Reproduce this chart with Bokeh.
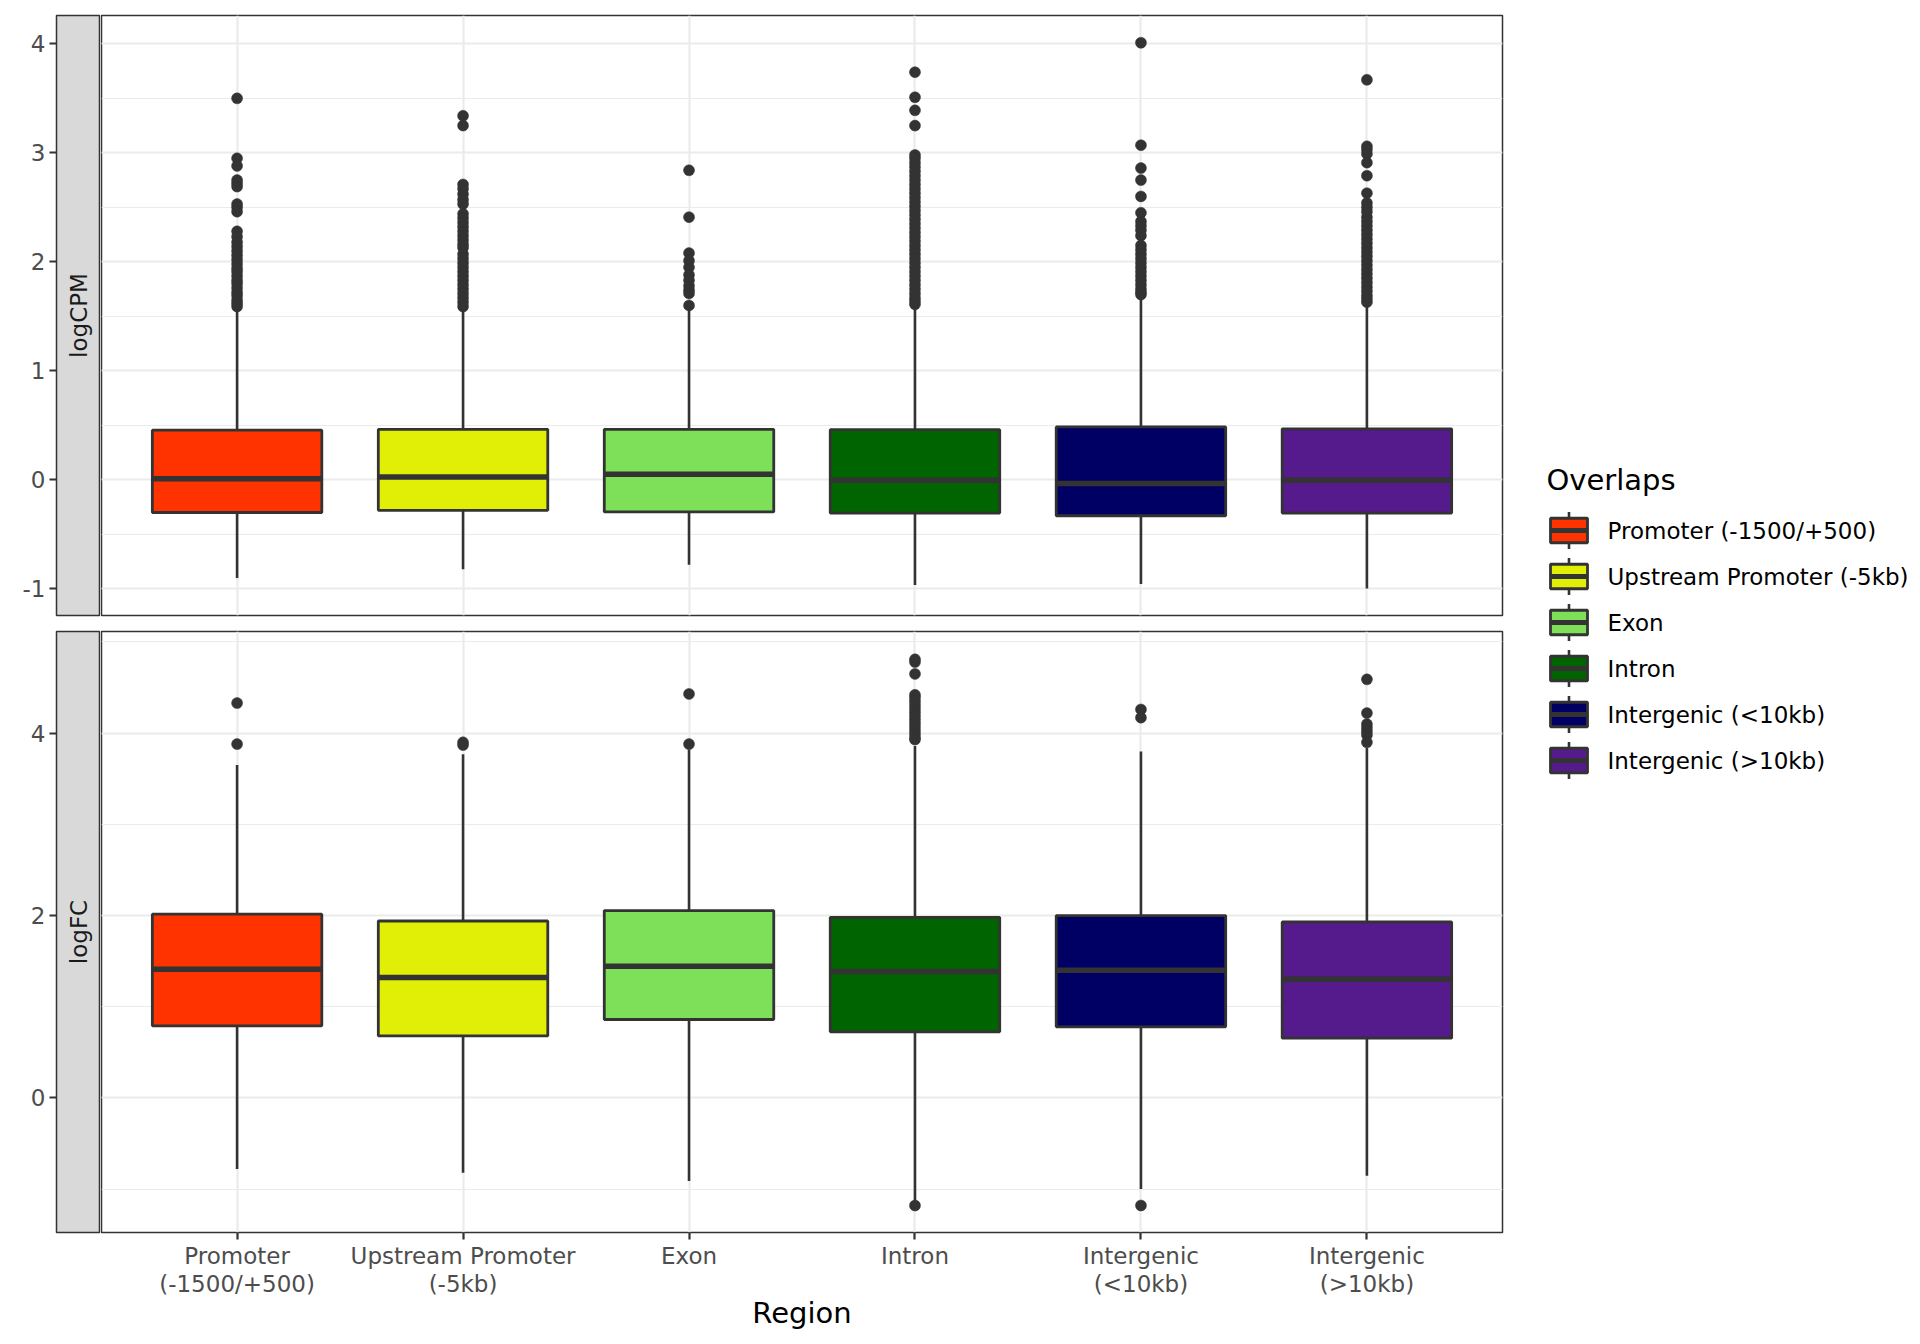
import math
from bokeh.plotting import figure
from bokeh.layouts import row, column
from bokeh.models import Range1d, FixedTicker, SingleIntervalTicker, Grid
from bokeh.core.properties import value
from bokeh.embed import file_html
from bokeh.resources import INLINE

# ---------------- data ----------------
categories = ["Promoter (-1500/+500)", "Upstream Promoter (-5kb)", "Exon", "Intron",
              "Intergenic (<10kb)", "Intergenic (>10kb)"]
tick_labels = ["Promoter\n(-1500/+500)", "Upstream Promoter\n(-5kb)", "Exon", "Intron",
               "Intergenic\n(<10kb)", "Intergenic\n(>10kb)"]
colors = ["#FF3300", "#E1EF07", "#7EDF59", "#006400", "#000064", "#551A8B"]

# logCPM panel: box statistics
cpm_lo = [-0.90, -0.82, -0.78, -0.965, -0.955, -0.997]
cpm_q1 = [-0.30, -0.28, -0.295, -0.305, -0.33, -0.305]
cpm_med = [0.01, 0.025, 0.05, -0.005, -0.035, -0.005]
cpm_q3 = [0.455, 0.463, 0.463, 0.46, 0.485, 0.468]
cpm_hi = [1.56, 1.57, 1.58, 1.59, 1.68, 1.61]
cpm_out = [
    [3.50, 2.95, 2.88, 2.75, 2.72, 2.69, 2.53, 2.50, 2.46, 2.28, 2.23, 2.18, 2.14, 2.10,
     2.06, 2.02, 1.98, 1.94, 1.91, 1.87, 1.83, 1.80, 1.76, 1.72, 1.69, 1.65, 1.62, 1.59],
    [3.34, 3.25, 2.71, 2.67, 2.62, 2.57, 2.53, 2.44, 2.40, 2.36, 2.32, 2.28, 2.24, 2.20,
     2.16, 2.13, 2.07, 2.03, 1.99, 1.95, 1.91, 1.87, 1.83, 1.79, 1.75, 1.71, 1.67, 1.63, 1.59],
    [2.84, 2.41, 2.08, 2.01, 1.95, 1.88, 1.83, 1.78, 1.74, 1.71, 1.60],
    [3.74, 3.51, 3.39, 3.25, 2.98, 2.95, 2.91, 2.87, 2.83, 2.79, 2.75, 2.71, 2.67, 2.63,
     2.59, 2.55, 2.51, 2.47, 2.43, 2.39, 2.35, 2.31, 2.27, 2.23, 2.19, 2.15, 2.11, 2.07,
     2.03, 1.99, 1.95, 1.91, 1.87, 1.83, 1.79, 1.75, 1.71, 1.67, 1.64, 1.61],
    [4.01, 3.07, 2.86, 2.75, 2.60, 2.45, 2.37, 2.33, 2.29, 2.24, 2.15, 2.11, 2.07, 2.03,
     1.99, 1.95, 1.91, 1.87, 1.83, 1.79, 1.75, 1.72, 1.70],
    [3.67, 3.06, 3.03, 2.99, 2.91, 2.79, 2.63, 2.54, 2.50, 2.46, 2.41, 2.37, 2.33, 2.29,
     2.25, 2.21, 2.17, 2.13, 2.09, 2.05, 2.01, 1.97, 1.93, 1.89, 1.85, 1.81, 1.77, 1.73,
     1.69, 1.66, 1.63],
]

# logFC panel: box statistics
fc_lo = [-0.78, -0.82, -0.91, -1.13, -1.00, -0.855]
fc_q1 = [0.79, 0.68, 0.86, 0.725, 0.78, 0.655]
fc_med = [1.41, 1.32, 1.445, 1.385, 1.40, 1.30]
fc_q3 = [2.015, 1.94, 2.055, 1.98, 2.00, 1.93]
fc_hi = [3.65, 3.77, 3.82, 3.86, 3.80, 3.84]
fc_out = [
    [4.33, 3.88],
    [3.90, 3.87],
    [4.43, 3.88],
    [4.81, 4.78, 4.65, 4.42, 4.39, 4.35, 4.31, 4.27, 4.23, 4.19, 4.15, 4.11, 4.07, 4.03,
     3.99, 3.95, 3.93, -1.18],
    [4.26, 4.17, -1.18],
    [4.59, 4.22, 4.10, 4.06, 4.02, 3.98, 3.90],
]

legend_title = "Overlaps"
x_title = "Region"
panel_titles = ["logCPM", "logFC"]

# ---------------- style ----------------
FONT = "DejaVu Sans"
DARK = "#333333"
GRID = "#EBEBEB"
BOX_W = 0.75

xs = list(range(1, len(categories) + 1))


def style_grid(p, interval):
    p.grid.visible = False
    yg = Grid(dimension=1, ticker=SingleIntervalTicker(interval=interval, num_minor_ticks=2),
              grid_line_color=GRID, grid_line_width=2.2,
              minor_grid_line_color=GRID, minor_grid_line_width=1.2)
    p.add_layout(yg, "center")
    xg = Grid(dimension=0, ticker=FixedTicker(ticks=xs),
              grid_line_color=GRID, grid_line_width=2.2)
    p.add_layout(xg, "center")


def make_panel(y_range, interval, lo, q1, med, q3, hi, outl, height, b_top, b_bottom, show_x):
    p = figure(width=1411, height=height, x_range=Range1d(0.4, 6.6), y_range=y_range,
               x_axis_location="below" if show_x else None, y_axis_location=None,
               output_backend="svg", toolbar_location=None,
               min_border_left=1, min_border_right=9, min_border_top=b_top,
               min_border_bottom=b_bottom)
    style_grid(p, interval)
    p.outline_line_color = DARK
    p.outline_line_width = 1.5
    p.background_fill_color = "white"

    # whiskers
    p.segment(x0=xs, y0=q3, x1=xs, y1=hi, line_color=DARK, line_width=2.6)
    p.segment(x0=xs, y0=lo, x1=xs, y1=q1, line_color=DARK, line_width=2.6)
    # boxes
    p.vbar(x=xs, width=BOX_W, bottom=q1, top=q3, fill_color=colors,
           line_color=DARK, line_width=2.8)
    # medians
    p.segment(x0=[x - BOX_W / 2 for x in xs], y0=med, x1=[x + BOX_W / 2 for x in xs], y1=med,
              line_color=DARK, line_width=5.5, line_cap="butt")
    # outliers
    ox = [xs[i] for i, vals in enumerate(outl) for v in vals]
    oy = [v for vals in outl for v in vals]
    p.scatter(x=ox, y=oy, size=11, fill_color=DARK, line_color=DARK, line_width=0.5)

    if show_x:
        ax = p.xaxis[0]
        ax.ticker = FixedTicker(ticks=xs)
        ax.major_label_overrides = {x: lab for x, lab in zip(xs, tick_labels)}
        ax.major_label_text_font = FONT
        ax.major_label_text_font_size = "23px"
        ax.major_label_text_line_height = 1.1
        ax.major_label_text_color = "#4D4D4D"
        ax.major_label_standoff = 3
        ax.major_tick_line_color = DARK
        ax.major_tick_line_width = 2.2
        ax.major_tick_out = 7
        ax.major_tick_in = 0
        ax.minor_tick_line_color = None
        ax.axis_line_color = None
        ax.axis_label = x_title
        ax.axis_label_text_font = FONT
        ax.axis_label_text_font_size = "29px"
        ax.axis_label_text_font_style = "normal"
        ax.axis_label_text_color = "black"
        ax.axis_label_standoff = -4
    return p


def make_strip(y_range, interval, label, height, b_top, b_bottom):
    s = figure(width=100, height=height, x_range=Range1d(0, 1), y_range=y_range,
               x_axis_location=None, y_axis_location="left",
               output_backend="svg", toolbar_location=None,
               min_border_left=56, min_border_right=0, min_border_top=b_top,
               min_border_bottom=b_bottom)
    s.grid.visible = False
    s.background_fill_color = "#D9D9D9"
    s.border_fill_color = "white"
    s.outline_line_color = DARK
    s.outline_line_width = 1.5
    ax = s.yaxis[0]
    ax.ticker = SingleIntervalTicker(interval=interval, num_minor_ticks=0)
    ax.major_label_overrides = {-1: "-1"}
    ax.major_label_text_font = FONT
    ax.major_label_text_font_size = "23px"
    ax.major_label_text_color = "#4D4D4D"
    ax.major_label_standoff = 4
    ax.major_tick_line_color = DARK
    ax.major_tick_line_width = 2.2
    ax.major_tick_out = 7
    ax.major_tick_in = 0
    ax.minor_tick_line_color = None
    ax.axis_line_color = None
    mid = (y_range.start + y_range.end) / 2
    s.text(x=[0.5], y=[mid], text=[label], angle=math.pi / 2,
           text_font=value(FONT), text_font_size="23px", text_color="#1A1A1A",
           text_align="center", text_baseline="middle")
    return s


yr_cpm = Range1d(-1.245, 4.26)
yr_fc = Range1d(-1.476, 5.115)

TOP_H, BOT_H = 623, 715
strip_top = make_strip(yr_cpm, 1, panel_titles[0], TOP_H, 15, 8)
strip_bot = make_strip(yr_fc, 2, panel_titles[1], BOT_H, 8, 106)
main_top = make_panel(yr_cpm, 1, cpm_lo, cpm_q1, cpm_med, cpm_q3, cpm_hi, cpm_out,
                      TOP_H, 15, 8, False)
main_bot = make_panel(yr_fc, 2, fc_lo, fc_q1, fc_med, fc_q3, fc_hi, fc_out,
                      BOT_H, 8, 106, True)

# ---------------- legend ----------------
LW, LH = 409, TOP_H + BOT_H
lg = figure(width=LW, height=LH, x_range=Range1d(0, LW), y_range=Range1d(LH, 0),
            x_axis_location=None, y_axis_location=None, output_backend="svg",
            toolbar_location=None, min_border_left=0, min_border_right=0,
            min_border_top=0, min_border_bottom=0)
lg.grid.visible = False
lg.outline_line_color = None

KEY_X, KEY_Y0, KEY_STEP = 57.5, 530, 46
KEY_W, KEY_H, WHISK = 37, 24.5, 18.5
ky = [KEY_Y0 + KEY_STEP * i for i in range(len(categories))]
kx = [KEY_X] * len(categories)
lg.segment(x0=kx, y0=[y - WHISK for y in ky], x1=kx, y1=[y + WHISK for y in ky],
           line_color=DARK, line_width=2.6)
lg.rect(x=kx, y=ky, width=KEY_W, height=KEY_H, fill_color=colors,
        line_color=DARK, line_width=2.8)
lg.segment(x0=[KEY_X - KEY_W / 2] * len(ky), y0=ky, x1=[KEY_X + KEY_W / 2] * len(ky), y1=ky,
           line_color=DARK, line_width=5.0, line_cap="butt")
lg.text(x=[KEY_X + 38.5] * len(ky), y=ky, text=categories, text_font=value(FONT),
        text_font_size="23px", text_color="black", text_align="left",
        text_baseline="middle")
lg.text(x=[35], y=[479], text=[legend_title], text_font=value(FONT),
        text_font_size="29px", text_color="black", text_align="left",
        text_baseline="middle")

layout = row(column(strip_top, strip_bot), column(main_top, main_bot), lg)

open("out.html", "w").write(file_html(layout, INLINE))
